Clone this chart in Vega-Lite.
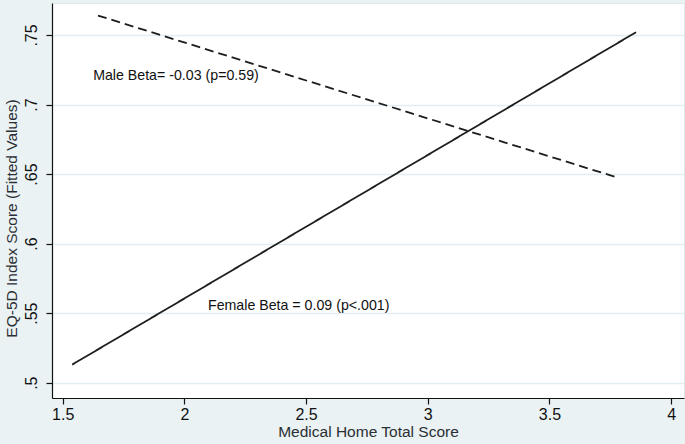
{
  "$schema": "https://vega.github.io/schema/vega-lite/v6.json",
  "width": 632,
  "height": 395,
  "autosize": {"type": "none"},
  "padding": {"left": 52, "top": 3, "right": 1, "bottom": 46},
  "background": "#eaf2f3",
  "config": {
    "view": {"fill": "#ffffff", "stroke": "#dce7ec", "strokeWidth": 1},
    "font": "Liberation Sans",
    "axis": {
      "domainColor": "#111111",
      "tickColor": "#111111",
      "labelColor": "#111111",
      "titleColor": "#2a2f33",
      "labelFont": "Liberation Sans",
      "titleFont": "Liberation Sans",
      "labelFontSize": 16,
      "titleFontSize": 15.5,
      "titleFontWeight": "normal",
      "tickSize": 6,
      "domainWidth": 1.2,
      "tickWidth": 1.2
    }
  },
  "datasets": {
    "lines": [
      {"group": "Female", "score": 1.539, "fitted": 0.513},
      {"group": "Female", "score": 3.856, "fitted": 0.752},
      {"group": "Male", "score": 1.645, "fitted": 0.764},
      {"group": "Male", "score": 3.77, "fitted": 0.648}
    ],
    "labels": [
      {"label": "Male Beta= -0.03 (p=0.59)", "score": 1.625, "fitted": 0.7205},
      {"label": "Female Beta = 0.09 (p<.001)", "score": 2.097, "fitted": 0.555}
    ]
  },
  "layer": [
    {
      "data": {"name": "lines"},
      "mark": {"type": "line", "color": "#1e1e1e", "strokeWidth": 1.8},
      "encoding": {
        "x": {
          "field": "score",
          "type": "quantitative",
          "scale": {"domain": [1.456, 4.053], "nice": false, "zero": false},
          "axis": {
            "title": "Medical Home Total Score",
            "values": [1.5, 2, 2.5, 3, 3.5, 4],
            "format": "~g",
            "grid": false,
            "labelPadding": 2,
            "titlePadding": 2
          }
        },
        "y": {
          "field": "fitted",
          "type": "quantitative",
          "scale": {"domain": [0.489, 0.773], "nice": false, "zero": false},
          "axis": {
            "title": "EQ-5D Index Score (Fitted Values)",
            "values": [0.5, 0.55, 0.6, 0.65, 0.7, 0.75],
            "labelExpr": "replace(format(datum.value, '.2~f'), '0.', '.')",
            "labelAngle": -90,
            "labelAlign": "center",
            "labelBaseline": "bottom",
            "labelPadding": 7,
            "titlePadding": 4,
            "titleY": 215,
            "grid": true,
            "gridColor": "#e2edf2",
            "gridWidth": 1.5
          }
        },
        "detail": {"field": "group"},
        "strokeDash": {
          "field": "group",
          "type": "nominal",
          "scale": {"domain": ["Female", "Male"], "range": [[1, 0], [9, 5]]},
          "legend": null
        }
      }
    },
    {
      "data": {"name": "labels"},
      "mark": {"type": "text", "align": "left", "baseline": "middle", "fontSize": 14.2, "color": "#111111", "font": "Liberation Sans"},
      "encoding": {
        "x": {"field": "score", "type": "quantitative"},
        "y": {"field": "fitted", "type": "quantitative"},
        "text": {"field": "label"}
      }
    }
  ]
}
